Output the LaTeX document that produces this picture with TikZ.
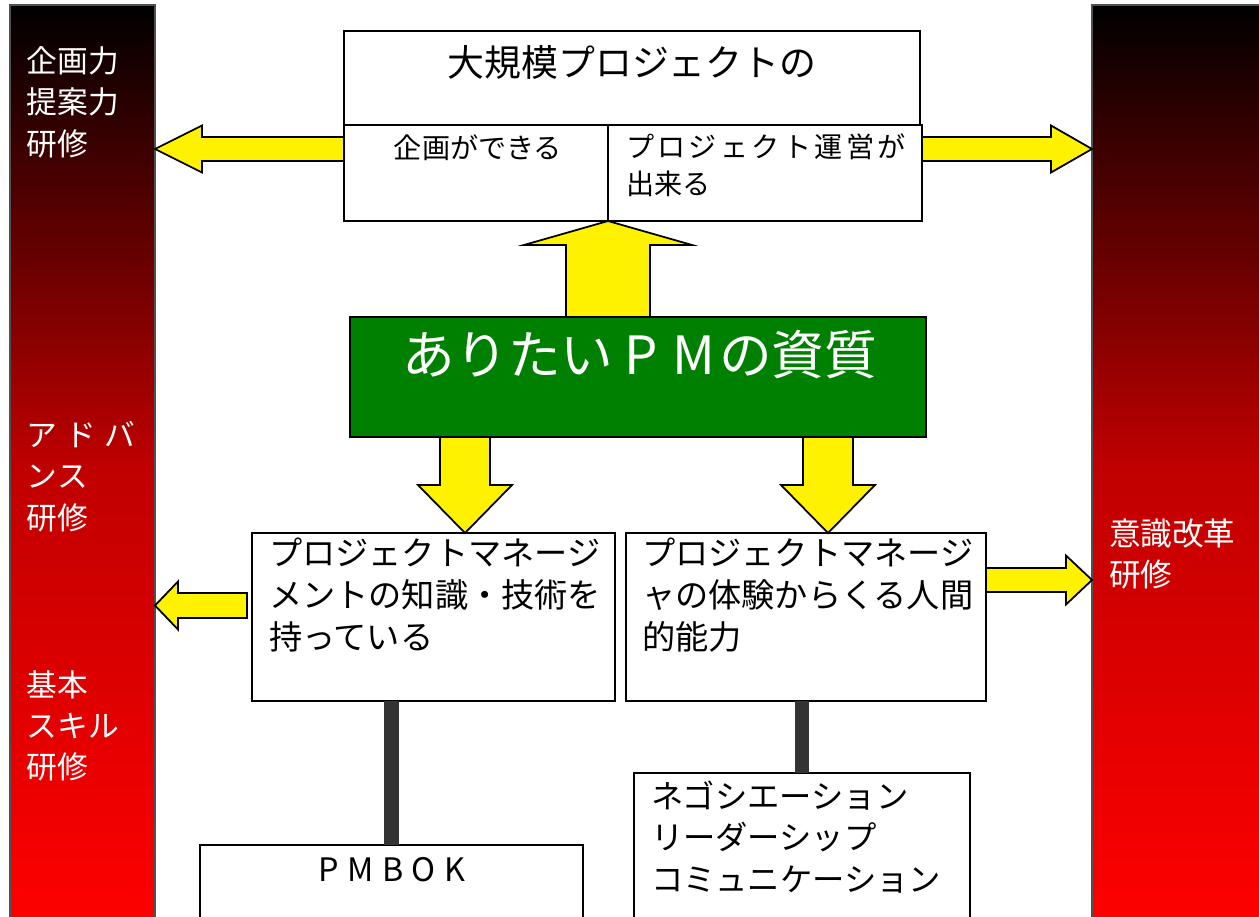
\documentclass[tikz,border=0pt]{standalone}
\usepackage{fontspec}
\setmainfont{Noto Sans CJK JP}
\usetikzlibrary{calc}
\definecolor{pmgreen}{RGB}{0,128,0}
\definecolor{barmid}{RGB}{192,0,0}
\definecolor{linkgray}{RGB}{51,51,51}
\definecolor{bargray}{RGB}{80,80,80}
\tikzset{
  frame/.style={draw=black, line width=0.9pt, fill=white, inner sep=0pt, outer sep=0pt, anchor=north west},
  greenbox/.style={draw=black, line width=1.1pt, fill=pmgreen, inner sep=0pt, outer sep=0pt, anchor=north west},
  bar/.style={draw=bargray, line width=0.6pt, top color=black, bottom color=red, middle color=barmid, inner sep=0pt, outer sep=0pt, anchor=north west},
  yarrow/.style={draw=black, line width=1pt, fill=yellow, line join=miter},
  link/.style={draw=linkgray, line width=8.5pt},
  txt/.style={inner sep=0pt, outer sep=0pt, align=left, anchor=north west},
  ctxt/.style={inner sep=0pt, outer sep=0pt, anchor=center},
  barfont/.style={font=\fontsize{17.5pt}{23.5pt}\selectfont, text=white},
  lowfont/.style={font=\fontsize{18.9pt}{24pt}\selectfont},
  negfont/.style={font=\fontsize{18.4pt}{23.5pt}\selectfont},
}
\newcommand\pmbox[6]{\node[#6, minimum width=#4*0.02cm, minimum height=#5*0.02cm] (#1) at (#2,#3) {};}
% horizontal block arrow: #1 tip, #2 tail, #3 head length (signed), #4 head half width, #5 shaft half width
\newcommand\hbarrow[5]{\draw[yarrow] (#1) -- ($(#1)+(#3,#4)$) -- ($(#1)+(#3,#5)$) -- ($(#2|-#1)+(0,#5)$) -- ($(#2|-#1)+(0,-#5)$) -- ($(#1)+(#3,-#5)$) -- ($(#1)+(#3,-#4)$) -- cycle;}
% vertical block arrow
\newcommand\vbarrow[5]{\draw[yarrow] (#1) -- ($(#1)+(#4,#3)$) -- ($(#1)+(#5,#3)$) -- ($(#1|-#2)+(#5,0)$) -- ($(#1|-#2)+(-#5,0)$) -- ($(#1)+(-#5,#3)$) -- ($(#1)+(-#4,#3)$) -- cycle;}
\begin{document}
\begin{tikzpicture}[x=0.02cm,y=-0.02cm]
\useasboundingbox (0,0) rectangle (1259,917);
\clip (0,0) rectangle (1259,917);
\fill[white] (0,0) rectangle (1259,917);
% side bars
\pmbox{lbar}{10}{5}{145}{925}{bar}
\pmbox{rbar}{1092}{5}{175}{925}{bar}
% boxes
\pmbox{ttop}{344}{31}{576}{94}{frame}
\pmbox{tl}{344}{125}{264}{96}{frame}
\pmbox{tr}{608}{125}{314}{96}{frame}
\pmbox{pm}{350}{317}{576}{120}{greenbox}
\pmbox{boxL}{252}{533}{363}{168}{frame}
\pmbox{boxR}{626}{533}{360}{168}{frame}
\pmbox{pmbok}{200}{845}{383}{100}{frame}
\pmbox{neg}{634}{773}{336}{160}{frame}
% connectors
\draw[link] (pmbok.north |- boxL.south) -- (pmbok.north);
\draw[link] (neg.north |- boxR.south) -- (neg.north);
% helper coordinates
\coordinate (y149) at (0,149);
\coordinate (y605) at (0,605.5);
\coordinate (y580) at (0,580);
\coordinate (a1) at (lbar.east |- y149);
\coordinate (a2) at (rbar.west |- y149);
\coordinate (a4) at ($(boxL.north west)+(213,0)$);
\coordinate (a5) at ($(boxR.north west)+(202,0)$);
\coordinate (a6) at (lbar.east |- y605);
\coordinate (a6t) at ($(boxL.west)+(-5,0)$);
\coordinate (a7) at (rbar.west |- y580);
% block arrows
\hbarrow{a1}{tl.west}{47}{23.5}{12}
\hbarrow{a2}{tr.east}{-41}{23.5}{12}
\vbarrow{tl.south east}{pm.north}{24}{84}{42}
\vbarrow{a4}{pm.south}{-48}{47}{25}
\vbarrow{a5}{pm.south}{-48}{47}{25}
\hbarrow{a6}{a6t}{23}{24}{12.5}
\hbarrow{a7}{boxR.east}{-26}{24.5}{12}
% texts
\node[txt, barfont] (tb1) at (27,46.5) {企画力\\提案力\\研修};
\node[txt, barfont] (tb2) at (27,421.5) {ア\kern4.5pt ド\kern4.5pt バ\\ンス\\研修};
\node[txt, barfont] (tb3) at (27,670.5) {基本\\スキル\\研修};
\node[txt, font=\fontsize{18pt}{23.3pt}\selectfont, text=white] (tb4) at (1109,519) {意識改革\\研修};
\node[ctxt, font=\fontsize{21pt}{25pt}\selectfont] (tt) at (ttop.center |- 0,62) {大規模プロジェクトの};
\node[ctxt, font=\fontsize{16pt}{21pt}\selectfont] (ttl) at (478,148) {企画ができる};
\node[txt, font=\fontsize{16pt}{21pt}\selectfont] (ttr) at (626,134) {{\addfontfeature{LetterSpace=12}プロジェクト運営が}\\出来る};
\node[ctxt, font=\fontsize{30pt}{34pt}\selectfont, text=white] (tg) at (640,355) {ありたい\kern6pt P\kern8.3pt M\kern2.3pt の資質};
\node[txt, lowfont] (tL) at (269,538) {プロジェクトマネージ\\メントの知識・技術を\\持っている};
\node[txt, lowfont] (tR) at (642,538) {プロジェクトマネージ\\ャの体験からくる人間\\的能力};
\node[ctxt, negfont] (tpm) at (392,870) {\addfontfeature{LetterSpace=26}PMBOK};
\node[txt, negfont] (tn) at (651,781) {ネゴシエーション\\リーダーシップ\\コミュニケーション};
\end{tikzpicture}
\end{document}
